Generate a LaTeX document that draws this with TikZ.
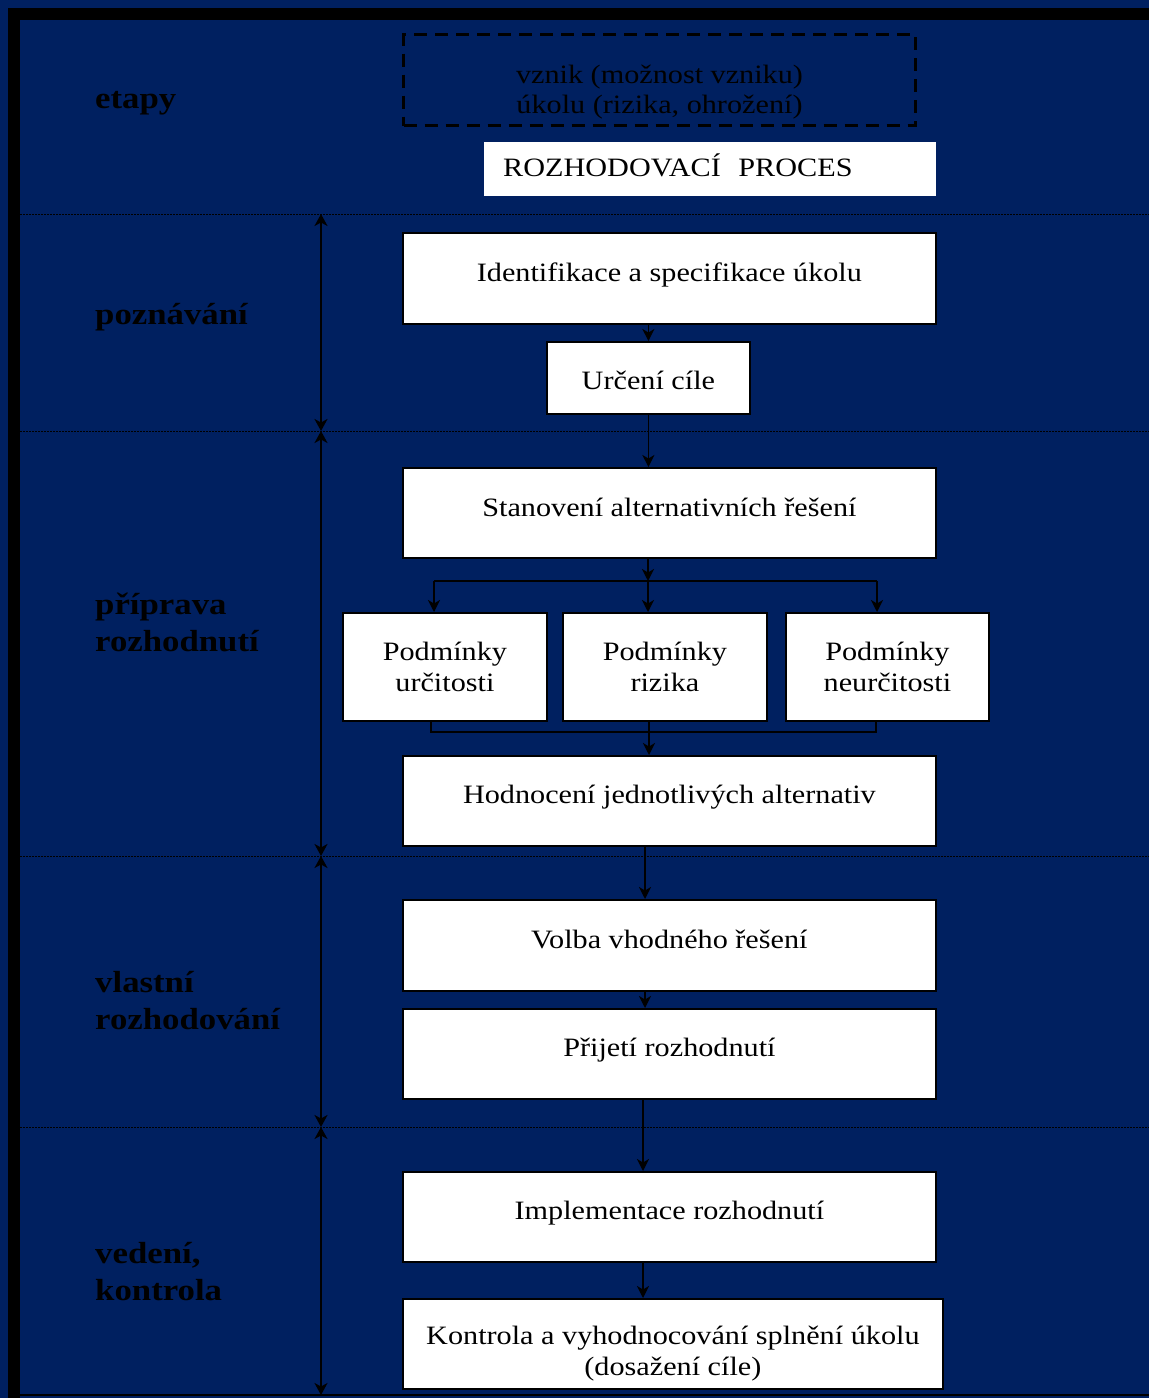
\documentclass[tikz,border=0pt]{standalone}
\usepackage{fontspec}
\setmainfont{Liberation Serif}[FakeStretch=1.14]
\usetikzlibrary{arrows.meta}
\definecolor{navybg}{RGB}{0,32,96}
\begin{document}
\begin{tikzpicture}[x=1pt,y=-1pt,
  whitebox/.style={draw=black,line width=1.8pt,fill=white,inner sep=0pt,anchor=north west,align=center,font=\fontsize{26.5}{31}\selectfont},
  onebox/.style={whitebox,text height=0pt,text depth=0pt},
  lab/.style={anchor=base west,inner sep=0pt,font=\fontsize{30.5}{37}\selectfont\bfseries},
  flow/.style={line width=1.8pt,-{Stealth[length=12pt,width=12pt,inset=3.5pt]}},
  joinline/.style={line width=1.8pt},
  stagearrow/.style={line width=1.8pt,{Stealth[length=12pt,width=13pt,inset=3.5pt]}-{Stealth[length=12pt,width=13pt,inset=3.5pt]}},
  sepline/.style={line width=1pt,dash pattern=on 1.5pt off 1.5pt}]
\useasboundingbox (0,0) rectangle (1149,1398);
% background and frame
\fill[navybg] (0,0) rectangle (1149,1398);
\fill[black] (8,8) rectangle (20,1398);
\fill[black] (8,8) rectangle (1149,19.5);
\draw[line width=2.5pt] (20,1395) -- (1149,1395);
% separators
\foreach \yy in {214,431,856,1127} \draw[sepline] (20,\yy) -- (1149,\yy);
% stage arrows
\coordinate (s1) at (321,214);
\coordinate (s2) at (321,431);
\coordinate (s3) at (321,856);
\coordinate (s4) at (321,1127);
\coordinate (s5) at (321,1395);
\draw[stagearrow] (s1) -- (s2);
\draw[stagearrow] (s2) -- (s3);
\draw[stagearrow] (s3) -- (s4);
\draw[stagearrow] (s4) -- (s5);
% stage labels
\node[lab] (letapy) at (95,108) {etapy};
\node[lab] (lpoz) at (95,324) {poznávání};
\node[lab] (lpri) at (95,614) {\begin{tabular}[t]{@{}l@{}}příprava\\rozhodnutí\end{tabular}};
\node[lab] (lvla) at (95,992) {\begin{tabular}[t]{@{}l@{}}vlastní\\rozhodování\end{tabular}};
\node[lab] (lved) at (95,1263) {\begin{tabular}[t]{@{}l@{}}vedení,\\kontrola\end{tabular}};
% top
\node[draw=black,line width=3pt,dash pattern=on 13pt off 8pt,minimum width=512pt,minimum height=91pt,anchor=north west,inner sep=0pt,text height=0pt,text depth=0pt,font=\fontsize{26.5}{30}\selectfont] (vznik) at (402,33) {\raisebox{-33.5pt}{\begin{tabular}[b]{@{}c@{}}vznik (možnost vzniku)\\úkolu (rizika, ohrožení)\end{tabular}}};
\node[fill=white,anchor=north west,minimum height=54pt,text width=414pt,inner xsep=19pt,inner ysep=0pt,align=left,text height=0pt,text depth=0pt,font=\fontsize{26.5}{31}\selectfont] (proc) at (484,142) {\raisebox{-7pt}{ROZHODOVACÍ~~PROCES}};
% boxes
\node[onebox,minimum width=533pt,minimum height=91pt] (ident) at (402,232) {\raisebox{-3pt}{Identifikace a specifikace úkolu}};
\node[onebox,minimum width=203pt,minimum height=72pt] (urc) at (546,341) {\raisebox{-12pt}{Určení cíle}};
\node[onebox,minimum width=533pt,minimum height=90pt] (stan) at (402,467) {\raisebox{-3.5pt}{Stanovení alternativních řešení}};
\node[whitebox,minimum width=204pt,minimum height=108pt] (pu) at (342,612) {Podmínky\\určitosti};
\node[whitebox,minimum width=204pt,minimum height=108pt] (pr) at (562,612) {Podmínky\\rizika};
\node[whitebox,minimum width=203pt,minimum height=108pt] (pn) at (785,612) {Podmínky\\neurčitosti};
\node[onebox,minimum width=533pt,minimum height=90pt] (hod) at (402,755) {\raisebox{-3pt}{Hodnocení jednotlivých alternativ}};
\node[onebox,minimum width=533pt,minimum height=91pt] (volba) at (402,899) {\raisebox{-3pt}{Volba vhodného řešení}};
\node[onebox,minimum width=533pt,minimum height=90pt] (prij) at (402,1008) {\raisebox{-3pt}{Přijetí rozhodnutí}};
\node[onebox,minimum width=533pt,minimum height=90pt] (impl) at (402,1171) {\raisebox{-3pt}{Implementace rozhodnutí}};
\node[onebox,minimum width=540pt,minimum height=90pt] (kontr) at (402,1298) {\raisebox{-32pt}{\begin{tabular}[b]{@{}c@{}}Kontrola a vyhodnocování splnění úkolu\\(dosažení cíle)\end{tabular}}};
% connectors
\draw[flow] (ident.south -| urc.north) -- (urc.north);
\draw[flow] (urc.south) -- (urc.south |- stan.north);
\coordinate (j) at (648,581);
\coordinate (jl) at (434,581);
\coordinate (jr) at (877,581);
\draw[flow] (stan.south -| j) -- (j);
\draw[joinline] (jl) -- (jr);
\draw[flow] (jl) -- (jl |- pu.north);
\draw[flow] (j) -- (j |- pr.north);
\draw[flow] (jr) -- (jr |- pn.north);
\coordinate (ml) at (431,732);
\coordinate (mm) at (649,732);
\coordinate (mr) at (876,732);
\draw[joinline] (pu.south -| ml) -- (ml) -- (mr) -- (pn.south -| mr);
\draw[flow] (pr.south -| mm) -- (mm |- hod.north);
\coordinate (ax1) at (645,845);
\coordinate (ax2) at (643,1098);
\draw[flow] (hod.south -| ax1) -- (volba.north -| ax1);
\draw[flow] (volba.south -| ax1) -- (prij.north -| ax1);
\draw[flow] (prij.south -| ax2) -- (impl.north -| ax2);
\draw[flow] (impl.south -| ax2) -- (kontr.north -| ax2);
\end{tikzpicture}
\end{document}
